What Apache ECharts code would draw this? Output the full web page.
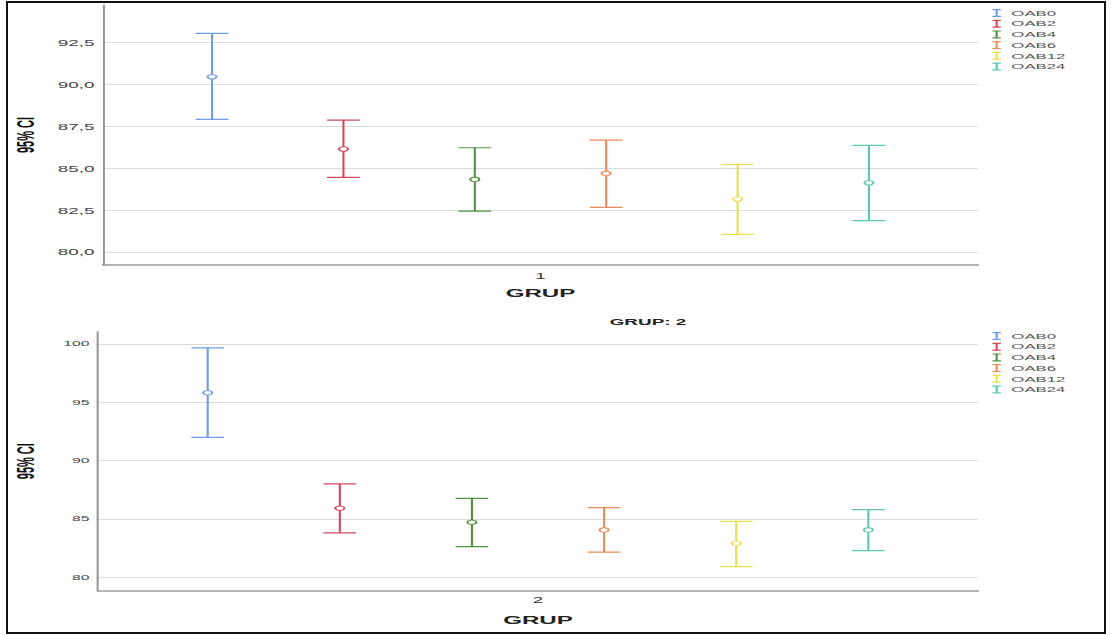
<!DOCTYPE html>
<html>
<head>
<meta charset="utf-8">
<script src="https://cdn.jsdelivr.net/npm/echarts@6/dist/echarts.min.js"></script>
<style>
  html, body { margin: 0; padding: 0; background: #fff; }
  .frame {
    position: absolute; left: 6px; top: 1px; width: 1100px; height: 633px;
    border: 2px solid #111; box-sizing: border-box;
  }
  /* the source picture is stretched sideways, so the chart is drawn narrow and scaled */
  #chart {
    position: absolute; left: 0; top: 0; width: 530px; height: 635px;
    transform: scaleX(2.1); transform-origin: 0 0;
  }
</style>
</head>
<body>
<div id="chart"></div>
<div class="frame"></div>
<script>
const S = 2.1; // horizontal stretch

const names = ["OAB0", "OAB2", "OAB4", "OAB6", "OAB12", "OAB24"];
const colors = ["#6e9ce8", "#d4475e", "#4f9340", "#ef8a5a", "#ecdf4f", "#5cc8b4"];

// GRUP 1
const grup1Low = [87.93, 84.47, 82.46, 82.68, 81.07, 81.9];
const grup1Mean = [90.47, 86.16, 84.35, 84.71, 83.18, 84.15];
const grup1High = [93.06, 87.89, 86.24, 86.7, 85.24, 86.38];
// GRUP 2
const grup2Low = [92.0, 83.8, 82.63, 82.15, 80.91, 82.28];
const grup2Mean = [95.82, 85.92, 84.72, 84.06, 82.92, 84.06];
const grup2High = [99.66, 88.0, 86.77, 85.97, 84.8, 85.8];

const topTicks = [80, 82.5, 85, 87.5, 90, 92.5];
const bottomTicks = [80, 85, 90, 95, 100];
const groups1 = ["1"];
const groups2 = ["2"];

const FONT = "Liberation Sans, Arial, sans-serif";

function renderBar(params, api) {
  var x = api.value(0);
  var lo = api.coord([x, api.value(1)]);
  var mid = api.coord([x, api.value(2)]);
  var hi = api.coord([x, api.value(3)]);
  var color = api.visual("color");
  var half = 7.8;
  return {
    type: "group",
    children: [
      { type: "line", shape: { x1: hi[0], y1: hi[1], x2: lo[0], y2: lo[1] }, style: { stroke: color, lineWidth: 1 } },
      { type: "line", shape: { x1: hi[0] - half, y1: hi[1], x2: hi[0] + half, y2: hi[1] }, style: { stroke: color, lineWidth: 1.2 } },
      { type: "line", shape: { x1: lo[0] - half, y1: lo[1], x2: lo[0] + half, y2: lo[1] }, style: { stroke: color, lineWidth: 1.2 } },
      { type: "circle", shape: { cx: mid[0], cy: mid[1], r: 2.2 }, style: { fill: "#fff", stroke: color, lineWidth: 1 } },
    ],
  };
}

function makeSeries(low, mean, high, idx) {
  return names.map(function (n, i) {
    return {
      name: n,
      type: "custom",
      xAxisIndex: idx * 2 + 1,
      yAxisIndex: idx,
      color: colors[i],
      itemStyle: { color: colors[i] },
      encode: { x: 0, y: [1, 2, 3] },
      renderItem: renderBar,
      data: [[i, low[i], mean[i], high[i]]],
    };
  });
}

function catAxis(grid, data, margin, gap) {
  return {
    type: "category",
    gridIndex: grid,
    data: data,
    axisLine: { lineStyle: { color: "#9a9a9a", width: 1.5 } },
    axisTick: { show: false },
    axisLabel: { margin: margin, fontSize: 9, color: "#333", fontFamily: FONT },
    name: "GRUP",
    nameLocation: "middle",
    nameGap: gap,
    nameTextStyle: { fontSize: 11.5, fontWeight: "bold", color: "#222", fontFamily: FONT },
  };
}

function valAxis(grid, min, max, ticks, fmt, fontSize, gap) {
  return {
    type: "value",
    gridIndex: grid,
    min: min,
    max: max,
    axisLine: { show: true, onZero: false, lineStyle: { color: "#9a9a9a", width: 1 } },
    axisTick: { show: false, customValues: ticks },
    axisLabel: { customValues: ticks, formatter: fmt, fontSize: fontSize, color: "#444", margin: 4, fontFamily: FONT },
    splitLine: { show: true, lineStyle: { color: "#dcdcdc", width: 1 } },
    name: "95% CI",
    nameLocation: "middle",
    nameGap: gap,
    nameMoveOverlap: false,
    nameTextStyle: { fontSize: 11, fontWeight: "bold", color: "#111", fontFamily: FONT },
  };
}

const legendBase = {
  orient: "vertical",
  left: 467.6,
  itemWidth: 4,
  itemHeight: 8,
  itemGap: 1.7,
  icon: "path://M0,0h4v1.2h-1.5v5.6h1.5v1.2h-4v-1.2h1.5v-5.6h-1.5z",
  textStyle: { fontSize: 8, color: "#555", lineHeight: 9, fontFamily: FONT },
  data: names,
};

const chart = echarts.init(document.getElementById("chart"), null, { renderer: "svg" });

const option = {
  animation: false,
  title: {
    text: "GRUP: 2",
    left: 648 / S,
    top: 317,
    textAlign: "center",
    padding: 0,
    textStyle: { fontSize: 9, fontWeight: "bold", color: "#222", fontFamily: FONT },
  },
  legend: [
    Object.assign({}, legendBase, { top: 3.5 }),
    Object.assign({}, legendBase, { top: 326.5 }),
  ],
  grid: [
    { left: 103 / S, width: (978 - 103) / S, top: 5, height: 260, outerBoundsMode: "none" },
    { left: 98 / S, width: (978 - 98) / S, top: 331.7, height: 259, outerBoundsMode: "none" },
  ],
  xAxis: [
    catAxis(0, groups1, 6, 22),
    { type: "value", gridIndex: 0, min: -0.83, max: 5.83, show: false },
    catAxis(1, groups2, 5, 23),
    { type: "value", gridIndex: 1, min: -0.83, max: 5.83, show: false },
  ],
  yAxis: [
    valAxis(0, 79.25, 94.75, topTicks, function (v) { return v.toFixed(1).replace(".", ","); }, 9, 31),
    valAxis(1, 78.85, 101.05, bottomTicks, function (v) { return String(v); }, 7.5, 28.6),
  ],
  series: makeSeries(grup1Low, grup1Mean, grup1High, 0).concat(
    makeSeries(grup2Low, grup2Mean, grup2High, 1)
  ),
};

chart.setOption(option);
</script>
</body>
</html>
